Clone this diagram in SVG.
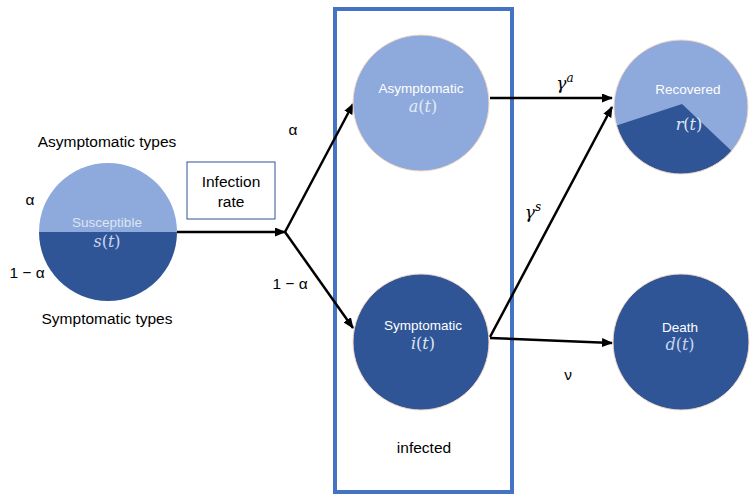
<svg xmlns="http://www.w3.org/2000/svg" width="750" height="495" viewBox="0 0 750 495">
<style>
.lbl{font-family:"Liberation Sans",Arial,sans-serif;font-size:15.5px;fill:#000;text-anchor:middle}
.in{font-family:"Liberation Sans",Arial,sans-serif;font-size:13.5px;fill:#fff;text-anchor:middle}
.math{font-family:"DejaVu Serif","Liberation Serif",serif;font-size:16px;text-anchor:middle}
.it{font-style:italic}
.light{fill:#8EA9DB}
.dark{fill:#2F5597}
.ring{fill:none;stroke:#F4D9C8;stroke-width:1}
.conn{stroke:#000;stroke-width:2.5;fill:none}
</style>
<defs>
<marker id="ah" markerUnits="userSpaceOnUse" markerWidth="11" markerHeight="9" refX="10" refY="4.5" orient="auto">
<path d="M0,0 L11,4.5 L0,9 Z" fill="#000"/>
</marker>
</defs>
<rect width="750" height="495" fill="#fff"/>

<g id="infected-box">
<rect x="335" y="9" width="177" height="483" fill="none" stroke="#4472C4" stroke-width="4"/>
<text class="lbl" x="424" y="453">infected</text>
</g>

<g id="connectors">
<line class="conn" x1="177" y1="232" x2="285" y2="232" marker-end="url(#ah)"/>
<line class="conn" x1="285" y1="232" x2="353" y2="104" marker-end="url(#ah)"/>
<line class="conn" x1="285" y1="232" x2="353" y2="328" marker-end="url(#ah)"/>
<line class="conn" x1="490" y1="98" x2="612" y2="98" marker-end="url(#ah)"/>
<line class="conn" x1="490" y1="337" x2="612" y2="107" marker-end="url(#ah)"/>
<line class="conn" x1="490" y1="338" x2="612" y2="343" marker-end="url(#ah)"/>
</g>

<g id="susceptible">
<path class="light" d="M39,232 A69,69 0 0 1 177,232 Z"/>
<path class="dark" d="M39,232 A69,69 0 0 0 177,232 Z"/>
<text class="in" x="107" y="227" style="fill:#DDE5F3">Susceptible</text>
<text class="math" x="107" y="247" style="fill:#C9D6EE"><tspan class="it">s</tspan>(<tspan class="it">t</tspan>)</text>
</g>

<g id="labels-left">
<text class="lbl" x="107" y="147">Asymptomatic types</text>
<text class="lbl" x="107" y="324">Symptomatic types</text>
<text class="lbl" x="30" y="205">α</text>
<text class="lbl" x="27" y="278">1 − α</text>
<text class="lbl" x="293" y="135">α</text>
<text class="lbl" x="290" y="289">1 − α</text>
</g>

<g id="infection-rate">
<rect x="187" y="162" width="88" height="57" fill="#fff" stroke="#2F5597" stroke-width="1"/>
<text class="lbl" x="231" y="187">Infection</text>
<text class="lbl" x="231" y="207">rate</text>
</g>

<g id="asymptomatic">
<circle class="light" cx="421" cy="103" r="68"/>
<circle class="ring" cx="421" cy="103" r="68"/>
<text class="in" x="421" y="93">Asymptomatic</text>
<text class="math" x="423" y="112" style="fill:#E3EAF6"><tspan class="it">a</tspan>(<tspan class="it">t</tspan>)</text>
</g>

<g id="symptomatic">
<circle class="dark" cx="421" cy="342" r="68"/>
<circle class="ring" cx="421" cy="342" r="68"/>
<text class="in" x="423" y="330">Symptomatic</text>
<text class="math" x="423" y="349" style="fill:#DDE5F3"><tspan class="it">i</tspan>(<tspan class="it">t</tspan>)</text>
</g>

<g id="recovered">
<circle class="light" cx="681" cy="107" r="67"/>
<path class="dark" d="M682,104 L616.6,125.5 A67,67 0 0 0 731.6,151 Z"/>
<circle class="ring" cx="681" cy="107" r="67"/>
<text class="in" x="688" y="94">Recovered</text>
<text class="math" x="689" y="130" style="fill:#DDE5F3"><tspan class="it">r</tspan>(<tspan class="it">t</tspan>)</text>
</g>

<g id="death">
<circle class="dark" cx="681" cy="342" r="68"/>
<circle class="ring" cx="681" cy="342" r="68"/>
<text class="in" x="680" y="332">Death</text>
<text class="math" x="680" y="350" style="fill:#C9D6EE"><tspan class="it">d</tspan>(<tspan class="it">t</tspan>)</text>
</g>

<g id="rate-labels">
<text class="math" x="565" y="89" style="fill:#000;font-size:17px"><tspan class="it">γ</tspan><tspan class="it" font-size="12" dy="-7">a</tspan></text>
<text class="math" x="533" y="218" style="fill:#000;font-size:17px"><tspan class="it">γ</tspan><tspan class="it" font-size="12" dy="-7">s</tspan></text>
<text class="lbl" x="568" y="380">ν</text>
</g>
</svg>
